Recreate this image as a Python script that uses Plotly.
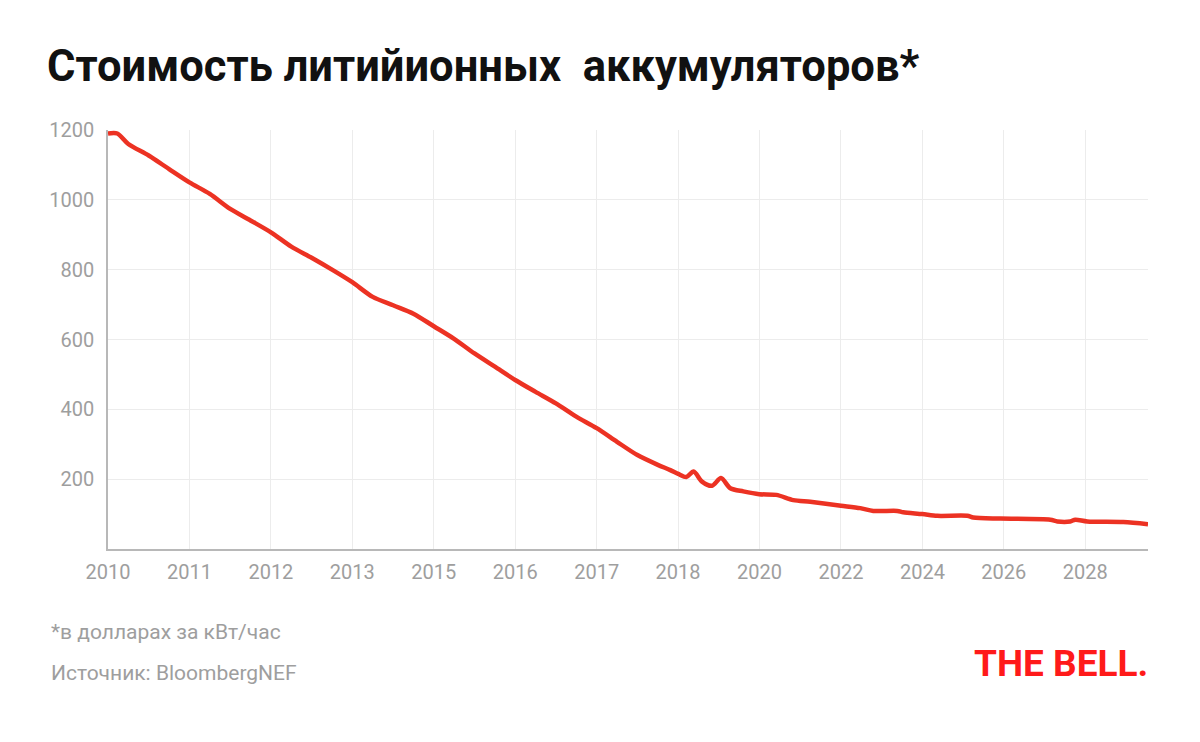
import plotly.graph_objects as go

# --- data (x in pixel-derived tick-step units) ---
TICK_LABELS = ["2010", "2011", "2012", "2013", "2015", "2016", "2017",
               "2018", "2020", "2022", "2024", "2026", "2028"]

X_PX = [107.7, 117, 128, 148.4, 168.8, 189.1, 209.5, 229.9, 250.2, 270.6,
        291, 311.3, 331.7, 352, 372.4, 392.8, 413.1, 433.5, 453.8, 474.2,
        494.6, 514.9, 535.3, 555.6, 576, 596.4, 616.7, 637.1, 657.5, 670,
        678, 686, 693.3, 701.7, 711.7, 720.7, 730, 743, 759, 776,
        793, 810, 840.7, 860, 873, 897, 903, 922, 937, 967,
        973, 1000, 1050, 1057, 1070, 1075, 1087, 1123, 1147.7]

COST = [1190, 1190, 1160, 1127, 1088, 1050, 1017, 974, 941, 907,
        866, 834, 800, 764, 722, 698, 674, 638, 602, 560,
        522, 484, 450, 417, 379, 346, 307, 269, 241, 226,
        215, 206, 222, 193, 181, 203, 174, 165, 157, 155,
        140, 135, 124, 117, 109, 109, 105, 100, 95, 95,
        90, 87, 84, 79, 79, 84, 79, 77, 71]

STEP_PX = 81.44
x = [(p - 107.7) / STEP_PX for p in X_PX]
x_end = (1147.7 - 107.7) / STEP_PX

GRAY = "#9e9e9e"
RED = "#EC3223"

# page body adds an 8px margin, so the figure is 8px smaller and offset
W, H = 1192, 734
PLOT_W, PLOT_H = 1040, 419.3

fig = go.Figure()
fig.add_trace(go.Scatter(
    x=x, y=COST, mode="lines",
    line=dict(color=RED, width=4.5, shape="spline", smoothing=0.8),
    hoverinfo="skip", showlegend=False,
))

fig.update_layout(
    width=W, height=H,
    plot_bgcolor="white", paper_bgcolor="white",
    margin=dict(l=100, r=52, t=122, b=H - 122 - PLOT_H),
    font=dict(family="Roboto, Arial, sans-serif", color=GRAY),
    title=dict(
        text="Стоимость литийионных&nbsp;&nbsp;аккумуляторов*",
        x=39 / W, xanchor="left", y=1 - 58 / H, yanchor="middle",
        font=dict(family="Roboto, Arial, sans-serif", size=43.5, color="#111111", weight="bold"),
    ),
)

fig.update_xaxes(
    range=[0, x_end],
    tickvals=list(range(len(TICK_LABELS))) + [x_end],
    ticktext=TICK_LABELS + [""],
    showgrid=True, gridcolor="#ececec", gridwidth=1.2,
    showline=True, linecolor="#b8b8b8", linewidth=1.5,
    zeroline=False, ticks="", ticklabelstandoff=4,
    tickfont=dict(size=20, color=GRAY),
)
fig.update_yaxes(
    range=[0, 1200],
    tickvals=[200, 400, 600, 800, 1000, 1200],
    showgrid=True, gridcolor="#ececec", gridwidth=1.2,
    showline=True, linecolor="#b8b8b8", linewidth=1.5,
    zeroline=False, ticks="", ticklabelstandoff=8,
    tickfont=dict(size=20, color=GRAY),
)

fig.add_annotation(
    text="*в долларах за кВт/час", xref="paper", yref="paper",
    x=(49 - 108) / PLOT_W, y=-(632 - 549.3) / PLOT_H, xanchor="left", yanchor="middle",
    showarrow=False, font=dict(size=21, color=GRAY),
)
fig.add_annotation(
    text="Источник: BloombergNEF", xref="paper", yref="paper",
    x=(49 - 108) / PLOT_W, y=-(673 - 549.3) / PLOT_H, xanchor="left", yanchor="middle",
    showarrow=False, font=dict(size=21, color=GRAY),
)
fig.add_annotation(
    text="<b>THE BELL.</b>", xref="paper", yref="paper",
    x=(1150 - 108) / PLOT_W, y=-(664 - 549.3) / PLOT_H, xanchor="right", yanchor="middle",
    showarrow=False, font=dict(family="Roboto, Arial, sans-serif", size=37, color="#FF1A1A", weight=900),
)

fig.write_html("out.html")
